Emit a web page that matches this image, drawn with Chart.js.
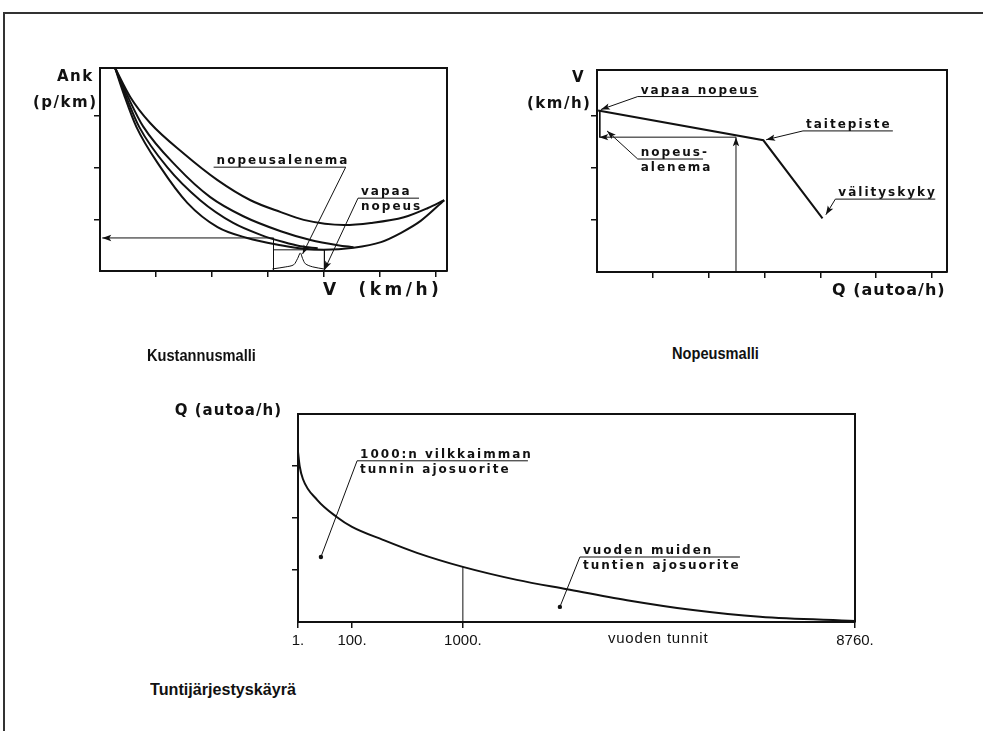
<!DOCTYPE html>
<html>
<head>
<meta charset="utf-8">
<script src="https://cdn.jsdelivr.net/npm/chart.js@4.4.1/dist/chart.umd.min.js"></script>
<style>
    body { margin: 0; background: #fff; }
    #page { position: relative; width: 983px; height: 731px; overflow: hidden; background: #fff; }
    #frame { position: absolute; left: 3px; top: 12px; width: 1000px; height: 740px; border-top: 2px solid #333; border-left: 2px solid #333; }
    canvas { position: absolute; }
    .lbl { position: absolute; color: #111; font-family: "DejaVu Sans", sans-serif; font-weight: bold; white-space: pre; line-height: 1; }
    .title { position: absolute; color: #111; font: bold 17px "Liberation Sans", Arial, sans-serif; line-height: 1; transform-origin: left top; }
</style>
</head>
<body>
<div id="page">
    <div id="frame"></div>

    <canvas id="costChart" width="430" height="260" style="left:40px;top:40px"></canvas>
    <canvas id="speedChart" width="480" height="260" style="left:490px;top:40px"></canvas>
    <canvas id="hourChart" width="740" height="280" style="left:150px;top:390px"></canvas>

    <div class="lbl" style="left:57px;top:69px;font-size:15px;letter-spacing:1.5px">Ank</div>
    <div class="lbl" style="left:33px;top:95px;font-size:15px;letter-spacing:1.5px">(p/km)</div>
    <div class="lbl" style="left:323px;top:281px;font-size:17px;letter-spacing:3.5px">V  (km/h)</div>

    <div class="lbl" style="left:572px;top:70px;font-size:15px;letter-spacing:1.5px">V</div>
    <div class="lbl" style="left:527px;top:96px;font-size:15px;letter-spacing:1.5px">(km/h)</div>
    <div class="lbl" style="left:832px;top:282px;font-size:16px;letter-spacing:1px">Q (autoa/h)</div>

    <div class="lbl" style="right:701px;top:403px;font-size:15px;letter-spacing:1px">Q (autoa/h)</div>

    <div class="title" style="left:147px;top:347px;transform:scaleX(0.86)">Kustannusmalli</div>
    <div class="title" style="left:672px;top:345px;transform:scaleX(0.86)">Nopeusmalli</div>
    <div class="title" style="left:150px;top:681px;transform:scaleX(0.95)">Tuntijärjestyskäyrä</div>
</div>

<script>
const INK = '#111';

// --- Kustannusmalli: cost per km (y) against speed (x), four cost curves
const costCurve1Speed = [0.27, 0.54, 0.90, 1.49, 2.10, 2.69, 3.23, 3.64, 4.36, 4.84, 5.43, 5.86, 6.15];
const costCurve1Cost  = [3.93, 3.37, 2.86, 2.28, 1.76, 1.37, 1.14, 0.99, 0.89, 0.93, 1.04, 1.22, 1.37];
const costCurve2Speed = [0.27, 0.50, 0.77, 1.38, 1.97, 2.56, 3.23, 3.76, 4.25, 4.53];
const costCurve2Cost  = [3.93, 3.37, 2.80, 2.01, 1.43, 1.06, 0.77, 0.60, 0.50, 0.46];
const costCurve3Speed = [0.27, 0.45, 0.70, 1.20, 1.79, 2.38, 2.87, 3.28, 3.58, 3.89];
const costCurve3Cost  = [3.93, 3.42, 2.79, 2.01, 1.37, 0.93, 0.70, 0.56, 0.48, 0.44];
const costCurve4Speed = [0.27, 0.43, 0.65, 1.08, 1.56, 2.10, 2.63, 3.23, 3.64, 4.00, 4.53, 5.02, 5.38, 5.73, 6.15];
const costCurve4Cost  = [3.93, 3.41, 2.79, 2.01, 1.32, 0.85, 0.64, 0.50, 0.43, 0.41, 0.45, 0.56, 0.74, 0.97, 1.37];

const costReadArrowX = [3.10, 0.04];
const costReadArrowY = [0.64, 0.64];
const costBoxLeftX = [3.10, 3.10];
const costBoxLeftY = [0.64, 0];
const costBoxRightX = [4.01, 4.01];
const costBoxRightY = [0.41, 0];
const costBoxTopX = [3.10, 4.01];
const costBoxTopY = [0.41, 0.41];
const costBraceX = [3.08, 3.32, 3.46, 3.53, 3.58, 3.62, 3.67, 3.80, 4.00];
const costBraceY = [0.04, 0.08, 0.12, 0.24, 0.35, 0.24, 0.14, 0.08, 0.04];
const costSlowdownLeaderX = [2.03, 4.39, 3.62];
const costSlowdownLeaderY = [2.01, 2.01, 0.33];
const costFreeLeaderX = [5.70, 4.61, 4.01];
const costFreeLeaderY = [1.41, 1.41, 0.02];

// --- Nopeusmalli: speed (y) against flow (x)
const speedFlow  = [0.02, 2.98, 4.04];
const speedValue = [3.10, 2.53, 1.03];
const speedReadArrowX = [2.49, 0.04];
const speedReadArrowY = [2.59, 2.59];
const speedFlowArrowX = [2.49, 2.49];
const speedFlowArrowY = [0, 2.59];
const speedDropX = [0.05, 0.05];
const speedDropY = [3.10, 2.59];
const speedFreeLeaderX = [2.89, 0.73, 0.07];
const speedFreeLeaderY = [3.37, 3.37, 3.12];
const speedBreakLeaderX = [5.30, 3.69, 3.03];
const speedBreakLeaderY = [2.71, 2.71, 2.54];
const speedDropLeaderX = [1.90, 0.73, 0.18];
const speedDropLeaderY = [2.17, 2.17, 2.71];
const speedCapLeaderX = [6.06, 4.27, 4.10];
const speedCapLeaderY = [1.40, 1.40, 1.10];

// --- Tuntijärjestyskäyrä: hourly volume (y) against rank hour of the year (x)
const HOUR_TICKS = [1, 100, 1000, 8760];
const HOUR_STOPS = [0, 0.097, 0.296, 1];
const rankHours  = [1, 4, 10, 36, 72, 100, 351, 627, 1000, 2069, 3059, 4247, 5553, 6879, 8760];
const hourVolume = [3.27, 3.00, 2.75, 2.35, 2.02, 1.83, 1.58, 1.33, 1.06, 0.81, 0.63, 0.42, 0.23, 0.10, 0.02];
const hourMarkX = [1000, 1000];
const hourMarkY = [0, 1.06];
const peakLeaderX = [2287, 141, 43];
const peakLeaderY = [3.10, 3.10, 1.25];
const restLeaderX = [6483, 3316, 2920];
const restLeaderY = [1.25, 1.25, 0.29];

function hourToDecimal(h) {
    for (let i = 1; i < HOUR_TICKS.length; i++) {
        if (h <= HOUR_TICKS[i] || i === HOUR_TICKS.length - 1) {
            const t = (h - HOUR_TICKS[i - 1]) / (HOUR_TICKS[i] - HOUR_TICKS[i - 1]);
            return HOUR_STOPS[i - 1] + t * (HOUR_STOPS[i] - HOUR_STOPS[i - 1]);
        }
    }
    return 0;
}

function decimalToHour(d) {
    for (let i = 1; i < HOUR_STOPS.length; i++) {
        if (d <= HOUR_STOPS[i] || i === HOUR_STOPS.length - 1) {
            const t = (d - HOUR_STOPS[i - 1]) / (HOUR_STOPS[i] - HOUR_STOPS[i - 1]);
            return HOUR_TICKS[i - 1] + t * (HOUR_TICKS[i] - HOUR_TICKS[i - 1]);
        }
    }
    return HOUR_TICKS[0];
}

// linear scale with the uneven hour axis of the original drawing
class HourScale extends Chart.LinearScale {
    getPixelForValue(value) {
        return value === null ? NaN : this.getPixelForDecimal(hourToDecimal(value));
    }
    getValueForPixel(pixel) {
        return decimalToHour(this.getDecimalForPixel(pixel));
    }
}
HourScale.id = 'hours';
HourScale.defaults = {};
Chart.register(HourScale);

function line(xs, ys, extra) {
    return Object.assign({
        data: xs.map((v, i) => ({ x: v, y: ys[i] })),
        borderColor: INK,
        backgroundColor: INK,
        borderWidth: 1,
        pointRadius: 0,
        tension: 0,
        fill: false,
    }, extra || {});
}

function curve(xs, ys) {
    return line(xs, ys, { borderWidth: 2, cubicInterpolationMode: 'monotone' });
}

function side(pos, min, max, ticks, marks, extra) {
    const isX = pos === 'top' || pos === 'bottom';
    return Object.assign({
        type: 'linear',
        position: pos,
        min: min,
        max: max,
        bounds: 'data',
        grid: { drawOnChartArea: false, drawTicks: marks, tickLength: 6, color: INK, lineWidth: 1.5 },
        border: { display: true, color: INK, width: 2 },
        ticks: { display: false },
        afterBuildTicks: s => { s.ticks = ticks.map(v => ({ value: v })); },
        afterFit: s => {
            if (isX) s.height = marks ? 8 : 0;
            else s.width = marks ? 8 : 0;
        },
    }, extra || {});
}

const arrowPlugin = {
    id: 'arrowheads',
    afterDatasetsDraw(chart) {
        const ctx = chart.ctx;
        chart.data.datasets.forEach((ds, i) => {
            const pts = chart.getDatasetMeta(i).data;
            if (pts.length < 2) return;
            const a = pts[pts.length - 2];
            const b = pts[pts.length - 1];
            ctx.save();
            ctx.fillStyle = INK;
            if (ds.arrow) {
                const ang = Math.atan2(b.y - a.y, b.x - a.x);
                ctx.translate(b.x, b.y);
                ctx.rotate(ang);
                ctx.beginPath();
                ctx.moveTo(0, 0);
                ctx.lineTo(-9, -3.2);
                ctx.lineTo(-7, 0);
                ctx.lineTo(-9, 3.2);
                ctx.closePath();
                ctx.fill();
            }
            if (ds.dot) {
                ctx.beginPath();
                ctx.arc(b.x, b.y, 2.2, 0, Math.PI * 2);
                ctx.fill();
            }
            ctx.restore();
        });
    }
};

function notesPlugin(notes) {
    return {
        id: 'notes',
        afterDatasetsDraw(chart) {
            const { ctx, scales } = chart;
            ctx.save();
            ctx.fillStyle = INK;
            notes.forEach(n => {
                const px = scales.x.getPixelForValue(n.x);
                const py = scales.y.getPixelForValue(n.y);
                ctx.font = n.font || 'bold 12px "DejaVu Sans", sans-serif';
                ctx.letterSpacing = n.spacing || '2px';
                if (n.below) {
                    ctx.textBaseline = 'top';
                    ctx.fillText(n.text, px + 3, py + (n.gap || 3));
                } else {
                    ctx.textBaseline = 'alphabetic';
                    ctx.fillText(n.text, px + 3, py - 3);
                }
            });
            ctx.restore();
        }
    };
}

const baseOptions = {
    responsive: false,
    animation: false,
    plugins: { legend: { display: false }, tooltip: { enabled: false } },
};

// Kustannusmalli
new Chart(document.getElementById('costChart'), {
    type: 'line',
    data: {
        datasets: [
            curve(costCurve1Speed, costCurve1Cost),
            curve(costCurve2Speed, costCurve2Cost),
            curve(costCurve3Speed, costCurve3Cost),
            curve(costCurve4Speed, costCurve4Cost),
            line(costReadArrowX, costReadArrowY, { arrow: true }),
            line(costBoxLeftX, costBoxLeftY),
            line(costBoxRightX, costBoxRightY),
            line(costBoxTopX, costBoxTopY),
            line(costBraceX, costBraceY, { tension: 0.3 }),
            line(costSlowdownLeaderX, costSlowdownLeaderY, { arrow: true }),
            line(costFreeLeaderX, costFreeLeaderY, { arrow: true }),
        ]
    },
    options: Object.assign({}, baseOptions, {
        layout: { padding: { left: 52, top: 28, right: 23, bottom: 21 } },
        scales: {
            x: side('bottom', 0, 6.2, [1, 2, 3, 4, 5, 6], true),
            y: side('left', 0, 3.93, [1, 2, 3], true),
            xTop: side('top', 0, 6.2, [], false),
            yRight: side('right', 0, 3.93, [], false),
        }
    }),
    plugins: [arrowPlugin, notesPlugin([
        { x: 2.03, y: 2.01, text: 'nopeusalenema' },
        { x: 4.61, y: 1.41, text: 'vapaa' },
        { x: 4.61, y: 1.41, text: 'nopeus', below: true },
    ])]
});

// Nopeusmalli
new Chart(document.getElementById('speedChart'), {
    type: 'line',
    data: {
        datasets: [
            line(speedFlow, speedValue, { borderWidth: 2 }),
            line(speedReadArrowX, speedReadArrowY, { arrow: true }),
            line(speedFlowArrowX, speedFlowArrowY, { arrow: true }),
            line(speedDropX, speedDropY),
            line(speedFreeLeaderX, speedFreeLeaderY, { arrow: true }),
            line(speedBreakLeaderX, speedBreakLeaderY, { arrow: true }),
            line(speedDropLeaderX, speedDropLeaderY, { arrow: true }),
            line(speedCapLeaderX, speedCapLeaderY, { arrow: true }),
        ]
    },
    options: Object.assign({}, baseOptions, {
        layout: { padding: { left: 99, top: 30, right: 23, bottom: 20 } },
        scales: {
            x: side('bottom', 0, 6.27, [1, 2, 3, 4, 5, 6], true),
            y: side('left', 0, 3.88, [1, 2, 3], true),
            xTop: side('top', 0, 6.27, [], false),
            yRight: side('right', 0, 3.88, [], false),
        }
    }),
    plugins: [arrowPlugin, notesPlugin([
        { x: 0.73, y: 3.37, text: 'vapaa nopeus' },
        { x: 3.69, y: 2.71, text: 'taitepiste' },
        { x: 0.73, y: 2.17, text: 'nopeus-' },
        { x: 0.73, y: 2.17, text: 'alenema', below: true },
        { x: 4.27, y: 1.40, text: 'välityskyky' },
    ])]
});

// Tuntijärjestyskäyrä
const hourAxis = side('bottom', 1, 8760, HOUR_TICKS, true, {
    type: 'hours',
    ticks: {
        display: true,
        autoSkip: false,
        maxRotation: 0,
        padding: 4,
        color: INK,
        font: { family: '"Liberation Sans", Arial, sans-serif', size: 15 },
        callback: v => v + '.',
    },
    afterFit: s => { s.height = 30; },
});

new Chart(document.getElementById('hourChart'), {
    type: 'line',
    data: {
        datasets: [
            curve(rankHours, hourVolume),
            line(hourMarkX, hourMarkY),
            line(peakLeaderX, peakLeaderY, { dot: true }),
            line(restLeaderX, restLeaderY, { dot: true }),
        ]
    },
    options: Object.assign({}, baseOptions, {
        layout: { padding: { left: 140, top: 24, right: 35, bottom: 18 } },
        scales: {
            x: hourAxis,
            y: side('left', 0, 4, [1, 2, 3], true),
            xTop: side('top', 0, 1, [], false),
            yRight: side('right', 0, 4, [], false),
        }
    }),
    plugins: [arrowPlugin, notesPlugin([
        { x: 141, y: 3.10, text: '1000:n vilkkaimman' },
        { x: 141, y: 3.10, text: 'tunnin ajosuorite', below: true },
        { x: 3316, y: 1.25, text: 'vuoden muiden' },
        { x: 3316, y: 1.25, text: 'tuntien ajosuorite', below: true },
        { x: 3811, y: 0, text: 'vuoden tunnit', below: true, gap: 9,
          font: '15px "Liberation Sans", Arial, sans-serif', spacing: '0.8px' },
    ])]
});
</script>
</body>
</html>
